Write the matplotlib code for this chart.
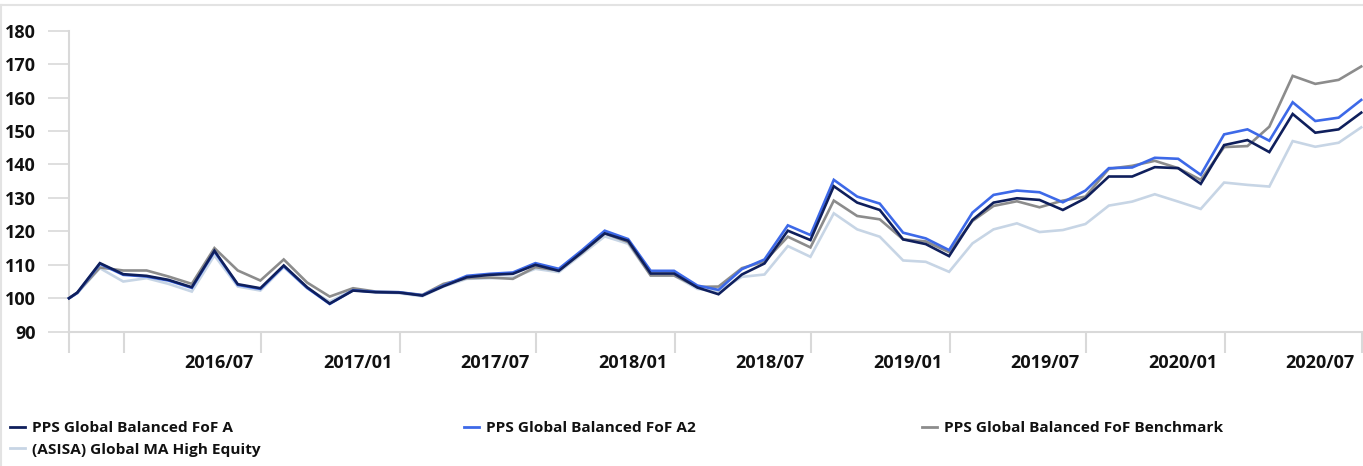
import matplotlib
matplotlib.use("Agg")
import matplotlib.pyplot as plt
import matplotlib.transforms as mtransforms
from matplotlib.lines import Line2D
import pandas as pd

# ---------------- data ----------------
dates = [
    "2015-10-20", "2015-10-31", "2015-11-30", "2015-12-31",
    "2016-01-31", "2016-02-29", "2016-03-31", "2016-04-30", "2016-05-31", "2016-06-30",
    "2016-07-31", "2016-08-31", "2016-09-30", "2016-10-31", "2016-11-30", "2016-12-31",
    "2017-01-31", "2017-02-28", "2017-03-31", "2017-04-30", "2017-05-31", "2017-06-30",
    "2017-07-31", "2017-08-31", "2017-09-30", "2017-10-31", "2017-11-30", "2017-12-31",
    "2018-01-31", "2018-02-28", "2018-03-31", "2018-04-30", "2018-05-31", "2018-06-30",
    "2018-07-31", "2018-08-31", "2018-09-30", "2018-10-31", "2018-11-30", "2018-12-31",
    "2019-01-31", "2019-02-28", "2019-03-31", "2019-04-30", "2019-05-31", "2019-06-30",
    "2019-07-31", "2019-08-31", "2019-09-30", "2019-10-31", "2019-11-30", "2019-12-31",
    "2020-01-31", "2020-02-29", "2020-03-31", "2020-04-30", "2020-05-31", "2020-06-30",
]

fund_a = [
    100.0, 101.7, 110.5, 107.2,
    106.7, 105.5, 103.3, 114.2, 104.2, 103.0,
    109.8, 103.3, 98.4, 102.3, 101.8, 101.7,
    100.8, 103.6, 106.3, 107.0, 107.3, 110.0,
    108.2, 113.8, 119.4, 117.2, 107.4, 107.4,
    103.2, 101.2, 107.1, 110.4, 120.2, 117.4,
    133.5, 128.6, 126.4, 117.6, 116.2, 112.6,
    123.4, 128.6, 129.9, 129.4, 126.4, 129.9,
    136.4, 136.4, 139.2, 138.9, 134.2, 145.8,
    147.3, 143.7, 155.1, 149.5, 150.5, 155.5,
]

fund_a2 = [
    100.0, 101.6, 110.3, 107.0,
    106.5, 105.3, 103.1, 114.0, 104.0, 102.8,
    109.6, 103.1, 98.3, 102.4, 101.9, 101.8,
    100.9, 103.8, 106.7, 107.3, 107.7, 110.5,
    108.8, 114.4, 120.2, 117.7, 108.2, 108.2,
    103.8, 102.5, 108.7, 111.6, 121.8, 118.9,
    135.4, 130.4, 128.3, 119.6, 117.9, 114.4,
    125.6, 130.9, 132.2, 131.7, 128.7, 132.2,
    138.9, 139.1, 142.0, 141.7, 136.9, 149.0,
    150.5, 147.1, 158.6, 153.0, 154.0, 159.3,
]

benchmark = [
    100.0, 101.7, 109.2, 108.3,
    108.3, 106.5, 104.3, 115.0, 108.3, 105.3,
    111.6, 104.7, 100.5, 103.0, 102.0, 101.8,
    101.0, 104.3, 106.0, 106.2, 105.8, 109.3,
    108.3, 113.6, 119.4, 116.8, 106.8, 106.8,
    103.4, 103.5, 109.0, 111.0, 118.4, 115.2,
    129.2, 124.6, 123.6, 117.6, 117.0, 113.8,
    123.1, 127.6, 129.0, 127.2, 129.2, 130.4,
    138.7, 139.6, 141.1, 138.9, 135.4, 145.2,
    145.5, 151.3, 166.5, 164.1, 165.3, 169.3,
]

sector = [
    100.0, 101.5, 109.0, 105.0,
    106.0, 104.3, 102.0, 112.8, 103.5, 102.3,
    109.3, 103.0, 99.0, 102.5, 101.8, 101.5,
    100.6, 103.5, 105.8, 106.0, 106.2, 108.8,
    107.8, 113.2, 118.5, 116.3, 106.8, 106.8,
    102.8, 102.0, 106.4, 107.1, 115.6, 112.4,
    125.4, 120.6, 118.4, 111.3, 110.9, 107.9,
    116.4, 120.6, 122.4, 119.8, 120.4, 122.2,
    127.7, 128.9, 131.1, 128.9, 126.7, 134.6,
    133.9, 133.4, 147.0, 145.3, 146.5, 151.1,
]

series_names = [
    "PPS Global Balanced FoF A",
    "PPS Global Balanced FoF A2",
    "PPS Global Balanced FoF Benchmark",
    "(ASISA) Global MA High Equity",
]

tick_dates = ["2015-10-20", "2016-01-01", "2016-07-01", "2017-01-01", "2017-07-01",
              "2018-01-01", "2018-07-01", "2019-01-01", "2019-07-01", "2020-01-01",
              "2020-07-01"]
tick_labels = ["", "", "2016/07", "2017/01", "2017/07", "2018/01", "2018/07",
               "2019/01", "2019/07", "2020/01", "2020/07"]
y_ticks = [90, 100, 110, 120, 130, 140, 150, 160, 170, 180]

# ---------------- style ----------------
plt.rcParams["font.family"] = ["Open Sans", "DejaVu Sans"]
plt.rcParams["font.weight"] = "bold"

colors = ["#0f1f5c", "#3d69e8", "#8c8c8c", "#c7d5e5"]
axis_grey = "#d9d9d9"
W, H = 1363, 466

fig = plt.figure(figsize=(W / 100, H / 100), dpi=100)
ax = fig.add_axes([69 / W, 134.3 / H, 1293 / W, 301 / H])

x = pd.to_datetime(dates)
lines = {}
for vals, name, col, z in [(sector, series_names[3], colors[3], 2),
                           (benchmark, series_names[2], colors[2], 3),
                           (fund_a2, series_names[1], colors[1], 4),
                           (fund_a, series_names[0], colors[0], 5)]:
    ln, = ax.plot(x, vals, color=col, lw=1.9, zorder=z, label=name,
                  clip_on=False, solid_joinstyle="miter")
    lines[name] = ln

ax.set_xlim(x[0], pd.Timestamp("2020-07-01"))
ax.set_ylim(90, 180)

for s in ["top", "right"]:
    ax.spines[s].set_visible(False)
for s in ["left", "bottom"]:
    ax.spines[s].set_color(axis_grey)
    ax.spines[s].set_linewidth(1.5)

ax.set_yticks(y_ticks)
ax.set_yticklabels([str(v) for v in y_ticks], fontsize=13, fontweight="bold", color="#111111")
ax.tick_params(axis="y", length=15, width=1.2, color=axis_grey, pad=9)

ax.set_xticks(pd.to_datetime(tick_dates))
ax.set_xticklabels(tick_labels, fontsize=13, fontweight="bold", color="#111111")
ax.tick_params(axis="x", length=15, width=1.5, color=axis_grey, pad=1)
offset = mtransforms.ScaledTranslation(-7 / 100, 0, fig.dpi_scale_trans)
for lbl in ax.get_xticklabels():
    lbl.set_horizontalalignment("right")
    lbl.set_transform(lbl.get_transform() + offset)

# legend: three columns at fixed positions
leg_kw = dict(loc="upper left", frameon=False, handlelength=1.0,
              handletextpad=0.42, borderpad=0, borderaxespad=0, labelspacing=0.5,
              prop={"weight": "bold", "size": 11.1})
col_groups = [
    (10, [series_names[0], series_names[3]]),
    (464, [series_names[1]]),
    (922, [series_names[2]]),
]
for xpos, names in col_groups:
    handles = [Line2D([], [], color=lines[n].get_color(), lw=2) for n in names]
    lg = fig.legend(handles, names, bbox_to_anchor=(xpos / W, 1 - 421 / H), **leg_kw)
    for t in lg.get_texts():
        t.set_color("#111111")

# outer frame lines (top and left)
fig.add_artist(Line2D([0, 1], [1 - 5 / H, 1 - 5 / H], transform=fig.transFigure,
                      color="#e3e3e3", lw=1.5))
fig.add_artist(Line2D([1 / W, 1 / W], [0, 1 - 5 / H], transform=fig.transFigure,
                      color="#e3e3e3", lw=1.5))

fig.savefig("out.png", dpi=100)
